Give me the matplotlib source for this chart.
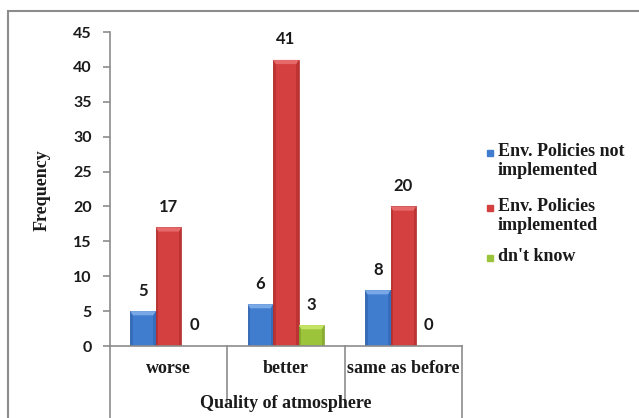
import matplotlib.pyplot as plt
from matplotlib.patches import Rectangle, Polygon

categories = ["worse", "better", "same as before"]
series_names = ["Env. Policies not\nimplemented", "Env. Policies\nimplemented", "dn't know"]
not_implemented = [5, 6, 8]
implemented = [17, 41, 20]
dont_know = [0, 3, 0]
yticks = [0, 5, 10, 15, 20, 25, 30, 35, 40, 45]

colors = ["#417DCF", "#D43F3F", "#9CC43B"]
tops = ["#79A8E6", "#E66A6A", "#C4E266"]
sides = ["#2F63AE", "#AE2C2C", "#7B9E2A"]

serif = "Liberation Serif"
sans = "Lato"

fig = plt.figure(figsize=(6.39, 4.18), dpi=100)
ax = fig.add_axes([110 / 639, 72 / 418, 352 / 639, 314 / 418])

# outer chart frame
fig.add_artist(Rectangle((8 / 639, -0.5), 2.0, 1.5 - 11 / 418, transform=fig.transFigure,
                         fill=False, edgecolor="#8c8c8c", linewidth=1.5))

width = 0.218
x = list(range(len(categories)))
for i, vals in enumerate([not_implemented, implemented, dont_know]):
    pos = [xi + (i - 1) * width for xi in x]
    bars = ax.bar(pos, vals, width=width, color=colors[i], edgecolor=sides[i], linewidth=0.5)
    for b, v in zip(bars, vals):
        x0, w = b.get_x(), b.get_width()
        if v > 0:
            # darker sides + light bevel on top
            s = w * 0.1
            ax.add_patch(Rectangle((x0, 0), s, v, color=sides[i], lw=0, alpha=0.6))
            ax.add_patch(Rectangle((x0 + w - s, 0), s, v, color=sides[i], lw=0, alpha=0.6))
            bev = min(0.6, v * 0.3)
            ax.add_patch(Polygon([(x0, v), (x0 + w, v), (x0 + w - s, v - bev), (x0 + s, v - bev)],
                                 closed=True, color=tops[i], lw=0))
        ax.annotate(str(v), (x0 + w / 2, v), xytext=(0, 9),
                    textcoords="offset points", ha="center", va="bottom",
                    fontsize=12, fontweight="bold", family=sans, color="#1a1a1a")

ax.set_xlim(-0.5, 2.5)
ax.set_ylim(0, 45)
ax.set_yticks(yticks)
ax.set_yticklabels([str(t) for t in yticks], fontsize=11.5, fontweight="bold", family=sans,
                   color="#1a1a1a")
ax.set_xticks([])
for s in ["top", "right"]:
    ax.spines[s].set_visible(False)
for s in ["left", "bottom"]:
    ax.spines[s].set_color("#8c8c8c")
    ax.spines[s].set_linewidth(1.2)
ax.tick_params(axis="y", length=5, color="#8c8c8c", width=1.2, pad=8)

# category boxes under the axis
tr = ax.get_xaxis_transform()
for xb in [0.5, 1.5]:
    ax.plot([xb, xb], [0, -0.178], transform=tr, color="#8c8c8c", lw=1.2, clip_on=False)
for xb in [-0.5, 2.5]:
    ax.plot([xb, xb], [0, -0.35], transform=tr, color="#8c8c8c", lw=1.2, clip_on=False)
for xi, c in zip(x, categories):
    ax.text(xi, -0.072, c, transform=tr, ha="center", va="center",
            fontsize=13, fontweight="bold", family=serif, color="#1a1a1a")
ax.text(1, -0.184, "Quality of atmosphere", transform=tr, ha="center", va="center",
        fontsize=13, fontweight="bold", family=serif, color="#1a1a1a")

fig.text(42 / 639, 1 - 190 / 418, "Frequency", rotation=90, ha="center", va="center",
         fontsize=13, fontweight="bold", family=serif, color="#1a1a1a")

# legend
legend_y = [153, 208, 258]
for name, col, ly in zip(series_names, colors, legend_y):
    fig.add_artist(Rectangle((487 / 639, 1 - (ly + 3) / 418), 6 / 639, 6 / 418,
                             transform=fig.transFigure, color=col))
    fig.text(498 / 639, 1 - (ly - 10) / 418, name, ha="left", va="top",
             fontsize=13, fontweight="bold", family=serif, linespacing=1.15,
             color="#1a1a1a")

fig.savefig("out.png", dpi=100)
